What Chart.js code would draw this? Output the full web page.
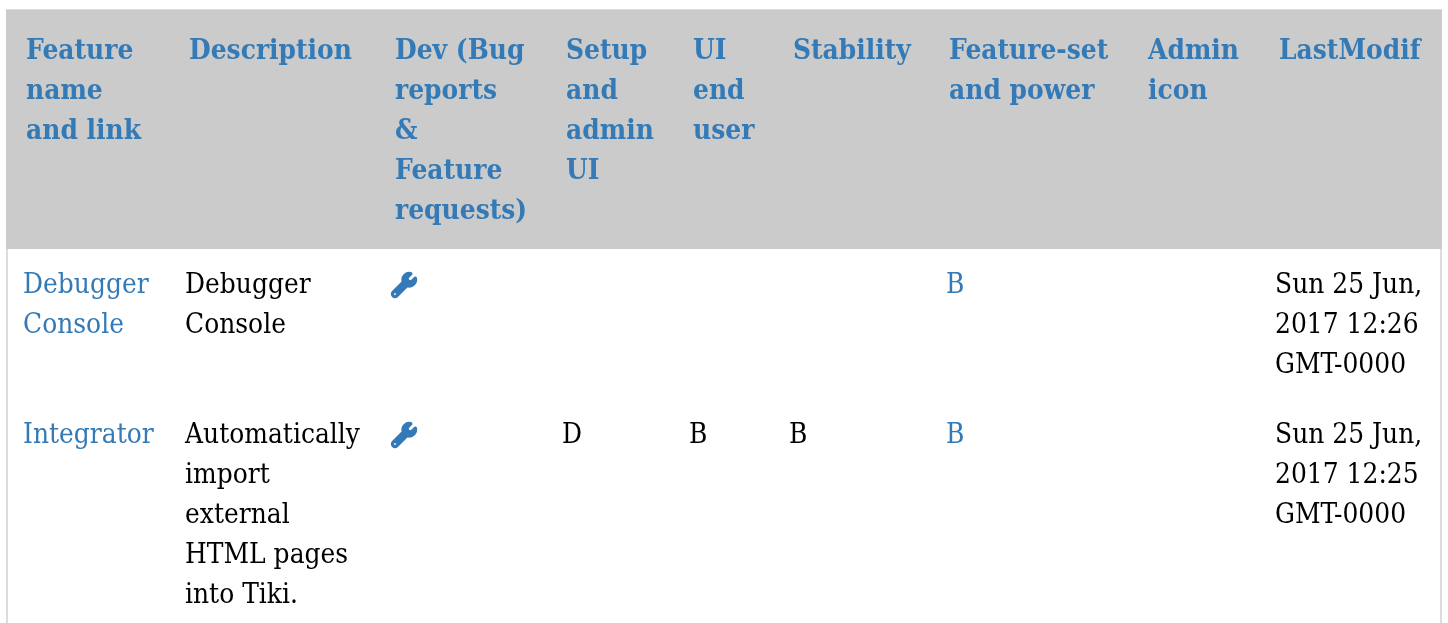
<!DOCTYPE html>
<html lang="en">
<head>
<meta charset="UTF-8">
<title>Feature table</title>
<style>
    html, body { margin: 0; padding: 0; background: #fff; overflow: hidden; }
    canvas { display: block; }
</style>
<script src="https://cdn.jsdelivr.net/npm/chart.js"></script>
</head>
<body>
<canvas id="tableChart" width="1448" height="623"></canvas>
<script>
// table content
const headers = [
    ['Feature', 'name', 'and link'],
    ['Description'],
    ['Dev (Bug', 'reports', '&', 'Feature', 'requests)'],
    ['Setup', 'and', 'admin', 'UI'],
    ['UI', 'end', 'user'],
    ['Stability'],
    ['Feature-set', 'and power'],
    ['Admin', 'icon'],
    ['LastModif']
];
const featureNames = [['Debugger', 'Console'], ['Integrator']];
const descriptions = [
    ['Debugger', 'Console'],
    ['Automatically', 'import', 'external', 'HTML pages', 'into Tiki.']
];
const devLinks = [true, true];
const setupGrades = ['', 'D'];
const uiGrades = ['', 'B'];
const stabilityGrades = ['', 'B'];
const powerGrades = ['B', 'B'];
const lastModified = [
    ['Sun 25 Jun,', '2017 12:26', 'GMT-0000'],
    ['Sun 25 Jun,', '2017 12:25', 'GMT-0000']
];

// layout, in page pixels
const headerX = [26, 189, 395, 566, 693, 793, 949, 1148, 1279];
const cellX = [23, 185, 391, 562, 689, 789, 946, 1145, 1275];
const rowBaseline = [293, 443];
const headerBaseline = 59;
const lineHeight = 40;
const textStretch = 1.09; // the source text is a bit taller than DejaVu at this width
const blue = '#337ab7';
const wrenchPath = new Path2D('M507.73 109.1c-2.24-9.03-13.54-12.09-20.12-5.51l-74.36 74.36-67.88-11.31-11.31-67.88 74.36-74.36c6.62-6.62 3.43-17.9-5.66-20.16-47.38-11.74-99.55.91-136.58 37.93-39.64 39.64-50.55 97.1-34.05 147.2L18.74 402.76c-24.99 24.99-24.99 65.51 0 90.5 24.99 24.99 65.51 24.99 90.5 0l213.21-213.21c50.12 16.71 107.47 5.68 147.37-34.22 37.07-37.07 49.7-89.32 37.91-136.73zM64 472c-13.25 0-24-10.75-24-24 0-13.26 10.75-24 24-24s24 10.74 24 24c0 13.25-10.75 24-24 24z');

// wrench marker, used as the point style of the dev column
const wrench = document.createElement('canvas');
wrench.width = 30;
wrench.height = 30;
const wctx = wrench.getContext('2d');
wctx.translate(3, 3);
wctx.scale(24 / 512, 24 / 512);
wctx.fillStyle = blue;
wctx.strokeStyle = blue;
wctx.lineWidth = 50;
wctx.lineJoin = 'round';
wctx.fill(wrenchPath, 'evenodd');
wctx.stroke(wrenchPath);
wctx.globalCompositeOperation = 'destination-out';
wctx.beginPath();
wctx.arc(64, 448, 20, 0, Math.PI * 2);
wctx.fill();

const tablePlugin = {
    id: 'tablePlugin',
    beforeDatasetsDraw(chart) {
        const { ctx, scales: { x, y } } = chart;
        const box = (x0, y0, x1, y1) => {
            const left = x.getPixelForValue(x0);
            const top = y.getPixelForValue(y0);
            ctx.fillRect(left, top, x.getPixelForValue(x1) - left, y.getPixelForValue(y1) - top);
        };

        // outer border and header band
        ctx.save();
        ctx.fillStyle = '#dcdcdc';
        box(6, 9, 1442, 10);
        box(6, 10, 8, 623);
        box(1440, 10, 1442, 623);
        ctx.fillStyle = '#cbcbcb';
        box(6, 10, 1442, 249);

        const write = (lines, left, baseline) => {
            lines.forEach((line, i) => {
                ctx.save();
                ctx.translate(x.getPixelForValue(left), y.getPixelForValue(baseline + i * lineHeight));
                ctx.scale(1, textStretch);
                ctx.fillText(line, 0, 0);
                ctx.restore();
            });
        };

        ctx.textBaseline = 'alphabetic';
        ctx.font = 'bold 25px "DejaVu Serif"';
        ctx.fillStyle = blue;
        headers.forEach((lines, col) => write(lines, headerX[col], headerBaseline));

        ctx.font = '25px "DejaVu Serif"';
        rowBaseline.forEach((baseline, row) => {
            ctx.fillStyle = blue;
            write(featureNames[row], cellX[0], baseline);
            write([powerGrades[row]], cellX[6], baseline);
            ctx.fillStyle = '#000';
            write(descriptions[row], cellX[1], baseline);
            write([setupGrades[row]], cellX[3], baseline);
            write([uiGrades[row]], cellX[4], baseline);
            write([stabilityGrades[row]], cellX[5], baseline);
            write(lastModified[row], cellX[8], baseline);
        });
        ctx.restore();
    }
};

new Chart(document.getElementById('tableChart'), {
    type: 'scatter',
    data: {
        datasets: [{
            label: 'Dev links',
            data: rowBaseline.filter((b, i) => devLinks[i]).map(b => ({ x: cellX[2] + 13, y: b - 8 })),
            pointStyle: wrench,
            pointRadius: 15
        }]
    },
    options: {
        responsive: false,
        animation: false,
        layout: { padding: 0, autoPadding: false },
        scales: {
            x: { type: 'linear', display: false, min: 0, max: 1448 },
            y: { type: 'linear', display: false, min: 0, max: 623, reverse: true }
        },
        plugins: {
            legend: { display: false },
            tooltip: { enabled: false }
        }
    },
    plugins: [tablePlugin]
});
</script>
</body>
</html>
